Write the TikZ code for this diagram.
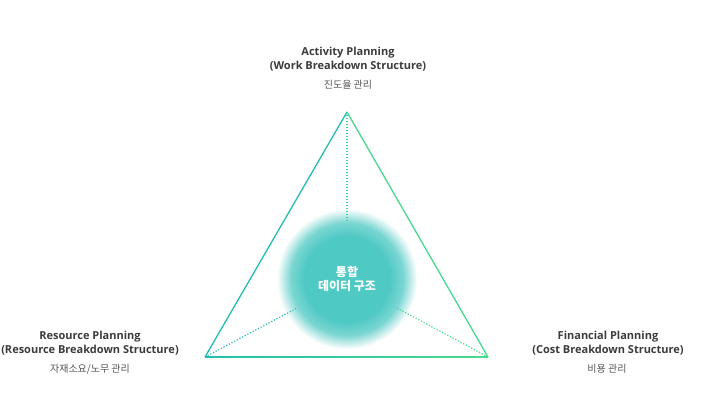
\documentclass[tikz,border=0pt]{standalone}
\usepackage{fontspec}
\setmainfont{Open Sans}
\newfontfamily\kr{Noto Sans CJK KR}
\usetikzlibrary{fadings}
\definecolor{cl}{RGB}{35,190,178}
\definecolor{cr}{RGB}{72,218,140}
\definecolor{glowc}{RGB}{78,201,196}
\definecolor{txt}{RGB}{60,60,60}
\definecolor{subtxt}{RGB}{85,85,85}
\pgfdeclareradialshading{glowmask}{\pgfpointorigin}{color(0bp)=(pgftransparent!0); color(15bp)=(pgftransparent!0); color(20bp)=(pgftransparent!25); color(25bp)=(pgftransparent!100); color(50bp)=(pgftransparent!100)}
\pgfdeclarefading{glowfade}{\pgfuseshading{glowmask}}
\tikzset{
  title/.style={font=\fontsize{11}{14}\selectfont\bfseries, text=txt, align=center, inner sep=0},
  sub/.style={font=\kr\fontsize{10}{12}\selectfont, text=subtxt, inner sep=0},
  center/.style={font=\kr\fontsize{12}{14.5}\selectfont\bfseries, text=white, align=center, inner sep=0},
  dots/.style={line width=1.2pt, dash pattern=on 1.2pt off 1.8pt}
}
\begin{document}
\begin{tikzpicture}[x=1pt,y=-1pt]
\useasboundingbox (0,0) rectangle (701,420);
\fill[white] (0,0) rectangle (701,420);
\coordinate (T) at (347,112);
\coordinate (L) at (205,357);
\coordinate (R) at (488,357);
\coordinate (C) at (347,279);
\coordinate (Te) at (347,222);
\coordinate (Le) at (297,308);
\coordinate (Re) at (397,308);
% dotted spokes
\draw[dots, draw=cl!50!cr] (T) -- (Te);
\draw[dots, draw=cl] (L) -- (Le);
\draw[dots, draw=cr] (R) -- (Re);
% triangle
\draw[line width=1.3pt, draw=cl] (L) -- (T);
\draw[line width=1.3pt, draw=cr] (T) -- (R);
\shade[left color=cl, right color=cr] (205,356.35) rectangle (488,357.65);
% glow
\fill[glowc, path fading=glowfade] (C) circle (70);
\node[center] (mid) at (C) {통합\\데이터 구조};
% labels
\node[title] (top) at (348,59) {Activity Planning\\(Work Breakdown Structure)};
\node[sub] (topk) at (348,85) {진도율 관리};
\node[title] (left) at (90,343) {Resource Planning\\(Resource Breakdown Structure)};
\node[sub] (leftk) at (90,369) {자재소요/노무 관리};
\node[title] (right) at (608,343) {Financial Planning\\(Cost Breakdown Structure)};
\node[sub] (rightk) at (607,369) {비용 관리};
\end{tikzpicture}
\end{document}
